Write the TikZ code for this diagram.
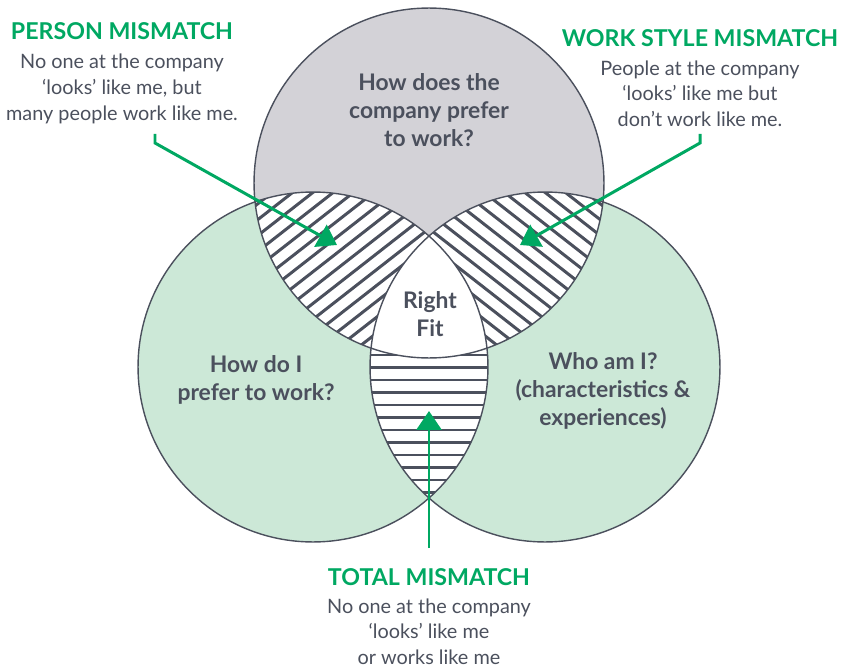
\documentclass[tikz,border=0pt]{standalone}
\usepackage{fontspec}
\setmainfont{Lato}
\usepackage{tikz}
\usetikzlibrary{positioning,arrows.meta}

\definecolor{fitgreen}{HTML}{00A862}
\definecolor{inkgray}{HTML}{4B505D}
\definecolor{palegreen}{HTML}{CCE8D7}
\definecolor{palegray}{HTML}{D3D2D7}

\begin{document}
\begin{tikzpicture}[
    x=0.02cm, y=-0.02cm,
    ring/.style={draw=inkgray, line width=0.8pt},
    hatch/.style={draw=inkgray, line width=1.7pt},
    question/.style={font=\bfseries\fontsize{13}{15.8}\selectfont, text=inkgray, align=center, inner sep=0pt},
    heading/.style={font=\bfseries\fontsize{13.2}{15}\selectfont, text=fitgreen, inner sep=0pt},
    caption/.style={font=\fontsize{11.3}{14.6}\selectfont, text=inkgray, align=center, inner sep=0pt},
    pointer/.style={-{Triangle[length=0.38cm, width=0.5cm]}, draw=fitgreen, line width=1.7pt}
]
\useasboundingbox (0,0) rectangle (842,669);

% circle centres
\coordinate (company) at (429,183);
\coordinate (work)    at (313,367);
\coordinate (self)    at (545,367);
\def\rad{3.5cm}

% Circles
\fill[palegreen] (work) circle[radius=\rad];
\fill[palegreen] (self) circle[radius=\rad];
\fill[palegray]  (company) circle[radius=\rad];

% person mismatch
\begin{scope}
  \clip (company) circle[radius=\rad];
  \clip (work) circle[radius=\rad];
  \fill[white] (100,100) rectangle (700,600);
  \foreach \k in {-16,...,16}
    \draw[hatch, rotate around={38:(343,280)}] (100,280+12.5*\k) -- ++(500,0);
\end{scope}

% work style mismatch
\begin{scope}
  \clip (company) circle[radius=\rad];
  \clip (self) circle[radius=\rad];
  \fill[white] (100,100) rectangle (700,600);
  \foreach \k in {-16,...,16}
    \draw[hatch, rotate around={-38:(515,280)}] (270,280+12.5*\k) -- ++(500,0);
\end{scope}

% total mismatch
\begin{scope}
  \clip (work) circle[radius=\rad];
  \clip (self) circle[radius=\rad];
  \fill[white] (100,100) rectangle (700,600);
  \foreach \k in {0,...,12}
    \draw[hatch] (300,355+12.5*\k) -- (560,355+12.5*\k);
\end{scope}

% right fit
\begin{scope}
  \clip (company) circle[radius=\rad];
  \clip (work) circle[radius=\rad];
  \clip (self) circle[radius=\rad];
  \fill[white] (100,100) rectangle (700,600);
\end{scope}

\draw[ring] (work) circle[radius=\rad];
\draw[ring] (self) circle[radius=\rad];
\draw[ring] (company) circle[radius=\rad];

% Questions
\node[question] (qcompany) at (429,110) {How does the\\company prefer\\to work?};
\node[question] (qfit)     at (430,314) {Right\\Fit};
\node[question] (qwork)    at (256,380) {How do I\\prefer to work?};
\node[question] (qself)    at (603,391) {Who am I?\\(characteristics \&\\experiences)};

% Labels
\node[heading] (person) at (122,31) {PERSON MISMATCH};
\node[caption, below=8pt of person] (persontxt) {No one at the company\\‘looks’ like me, but\\many people work like me.};
\node[heading] (style) at (700,38) {WORK STYLE MISMATCH};
\node[caption, below=7.5pt of style] (styletxt) {People at the company\\‘looks’ like me but\\don’t work like me.};
\node[heading] (total) at (429,577) {TOTAL MISMATCH};
\node[caption, below=7pt of total] (totaltxt) {No one at the company\\‘looks’ like me\\or works like me};

% Arrows
\coordinate (personfoot) at (155,134);
\coordinate (persontip)  at (337,245);
\coordinate (stylefoot)  at (700,134);
\coordinate (styletip)   at (520,245);
\coordinate (totalfoot)  at (429,548);
\coordinate (totaltip)   at (429,411);
\draw[pointer] (personfoot) -- ++(0,9) -- (persontip);
\draw[pointer] (stylefoot) -- ++(0,9) -- (styletip);
\draw[pointer] (totalfoot) -- (totaltip);

\end{tikzpicture}
\end{document}
